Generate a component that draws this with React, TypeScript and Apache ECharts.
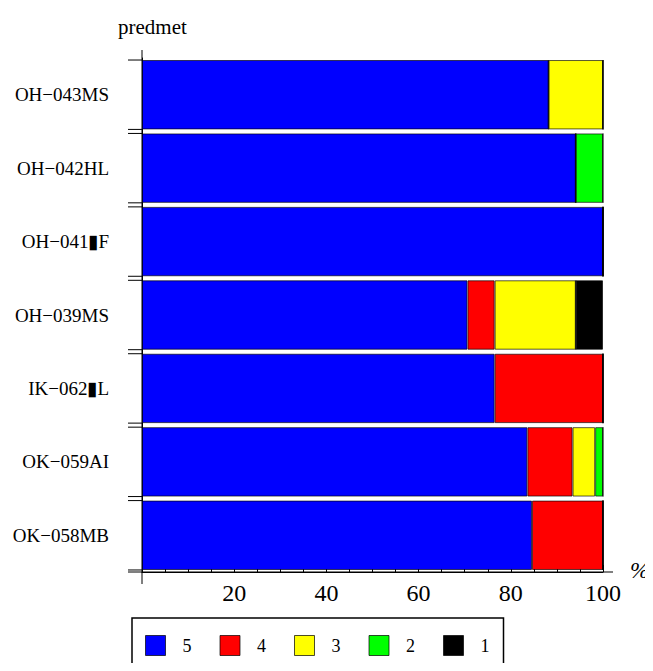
import React, { useEffect, useRef } from "react";
import * as echarts from "echarts";

const categories = ["OH−043MS", "OH−042HL", "OH−041▮F", "OH−039MS", "IK−062▮L", "OK−059AI", "OK−058MB"];
const grade5 = [88.2, 94.1, 100, 70.6, 76.5, 83.6, 84.6];
const grade4 = [0, 0, 0, 5.9, 23.5, 9.8, 15.4];
const grade3 = [11.8, 0, 0, 17.6, 0, 4.9, 0];
const grade2 = [0, 5.9, 0, 0, 0, 1.7, 0];
const grade1 = [0, 0, 0, 5.9, 0, 0, 0];
const seriesNames = ["5", "4", "3", "2", "1"];
const seriesColors = ["#0000ff", "#ff0000", "#ffff00", "#00ff00", "#000000"];
const xTicks = [0, 20, 40, 60, 80, 100];

const FONT = "'Liberation Serif', 'Times New Roman', serif";

export default function App() {
  const ref = useRef<HTMLDivElement>(null);
  useEffect(() => {
    if (!ref.current) return;
    const chart = echarts.init(ref.current, null, { renderer: "svg" });
    const values = [grade5, grade4, grade3, grade2, grade1];
    const barGap = 0.055;
    const barSeries = values.map((arr, i) => ({
      name: seriesNames[i],
      type: "bar",
      stack: "total",
      barCategoryGap: "5.5%",
      data: arr,
      itemStyle: {
        color: seriesColors[i],
        borderColor: "rgba(0,0,0,0.65)",
        borderWidth: 1,
      },
      emphasis: { disabled: true },
    }));
    chart.setOption({
      animation: false,
      grid: { left: 142, right: 50, top: 58, bottom: 99, containLabel: false },
      legend: {
        data: seriesNames,
        left: 132,
        top: 618,
        orient: "horizontal",
        itemWidth: 20,
        itemHeight: 20,
        itemGap: 28,
        padding: [17, 14, 13, 13],
        borderColor: "#000",
        borderWidth: 1.5,
        icon: "rect",
        selectedMode: false,
        itemStyle: { borderColor: "rgba(0,0,0,0.7)", borderWidth: 1 },
        textStyle: {
          fontFamily: FONT,
          fontSize: 18,
          color: "#000",
          padding: [0, 0, 8, 12],
        },
      },
      xAxis: {
        type: "value",
        min: xTicks[0],
        max: xTicks[xTicks.length - 1],
        interval: 20,
        splitLine: { show: false },
        axisLine: { show: true, lineStyle: { color: "#000", width: 1 } },
        axisTick: { show: true, inside: true, length: 7, lineStyle: { color: "#000" } },
        minorTick: { show: true, splitNumber: 4, length: 4, lineStyle: { color: "#000" } },
        axisLabel: {
          fontFamily: FONT,
          fontSize: 24,
          color: "#000",
          margin: 9,
          formatter: (v: number) => (v === 0 ? "" : String(v)),
        },
      },
      yAxis: {
        type: "category",
        inverse: true,
        data: categories,
        axisLine: { show: true, lineStyle: { color: "#000", width: 1 } },
        axisTick: { show: false },
        axisLabel: { fontFamily: FONT, fontSize: 19, color: "#000", margin: 33 },
      },
      graphic: [
        { type: "line", shape: { x1: 142, y1: 50, x2: 142, y2: 584 }, style: { stroke: "#000", lineWidth: 1 }, silent: true },
        { type: "line", shape: { x1: 128, y1: 572, x2: 613, y2: 572 }, style: { stroke: "#000", lineWidth: 1 }, silent: true },
        { type: "text", left: 118, top: 16, style: { text: "predmet", font: `21px ${FONT}`, fill: "#000" } },
        { type: "text", left: 630, top: 559, style: { text: "%", font: `italic 23px ${FONT}`, fill: "#000" } },
      ],
      series: [
        ...barSeries,
        {
          type: "custom",
          name: "ticks",
          silent: true,
          clip: false,
          data: categories.map((_, i) => [0, i]),
          encode: { x: 0, y: 1 },
          renderItem: (params: any, api: any) => {
            const p = api.coord([0, api.value(1)]);
            const h = (api.size([0, 1])[1] * (1 - barGap)) / 2;
            const style = { stroke: "#000", lineWidth: 1 };
            return {
              type: "group",
              children: [
                { type: "line", shape: { x1: p[0] - 14, y1: p[1] - h, x2: p[0], y2: p[1] - h }, style },
                { type: "line", shape: { x1: p[0] - 14, y1: p[1] + h, x2: p[0], y2: p[1] + h }, style },
              ],
            };
          },
          z: 5,
        },
      ],
    });
    return () => chart.dispose();
  }, []);
  return <div ref={ref} style={{ width: 653, height: 671, margin: -8 }} />;
}
